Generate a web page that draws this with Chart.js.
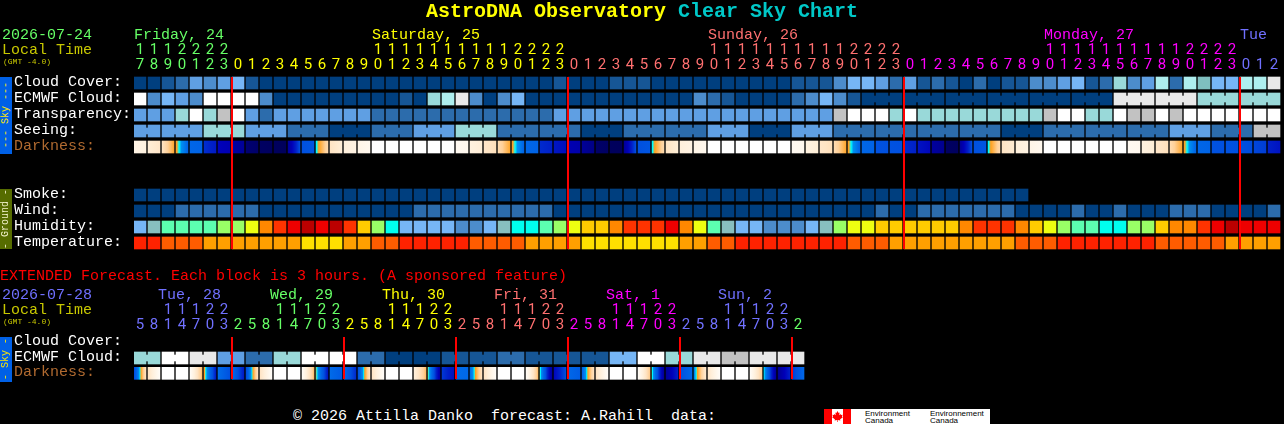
<!DOCTYPE html>
<html><head><meta charset="utf-8">
<script src="https://cdn.jsdelivr.net/npm/chart.js@4"></script>
<style>
html,body{margin:0;padding:0;background:#000;width:1284px;height:424px;overflow:hidden}
canvas{position:absolute;left:0}
.t{position:absolute;white-space:pre;font:15px/15px "Liberation Mono",monospace;color:#fff}
.bar{position:absolute;left:0;width:12px;display:flex;align-items:center;justify-content:center}
.bar span{writing-mode:vertical-rl;transform:rotate(180deg);font:10px/12px "Liberation Mono",monospace;white-space:pre}
#logo{position:absolute;left:824px;top:409px;width:166px;height:15px;background:#fff;overflow:hidden}
#logo i{position:absolute;top:0;height:15px;background:#f00}
#logo b{position:absolute;font:normal 8px/8px "Liberation Sans",sans-serif;color:#000;white-space:pre}
</style></head><body>
<canvas id="main" width="1284" height="260" style="top:0"></canvas>
<canvas id="ext" width="1284" height="130" style="top:260px"></canvas>
<div id="txt"></div>
<div class="bar" style="top:77px;height:77px;background:#0060e6;color:#ffe800"><span>--- Sky ---</span></div>
<div class="bar" style="top:189px;height:60px;background:#566c00;color:#f0f0c8"><span>- Ground -</span></div>
<div class="bar" style="top:337px;height:45px;background:#0060e6;color:#ffe800"><span>- Sky -</span></div>
<div id="logo"><i style="left:0;width:8px"></i><i style="left:19px;width:8px"></i>
<svg style="position:absolute;left:8px;top:0" width="11" height="15" viewBox="0 0 11 15"><polygon fill="#f00" points="5.5,2 6.6,4 7.6,3.6 7.2,6.2 8.6,5 9,6 10.6,5.8 10,7.6 10.8,8.2 8,10.4 8.4,11.4 5.8,11 5.8,13 5.2,13 5.2,11 2.6,11.4 3,10.4 0.2,8.2 1,7.6 0.4,5.8 2,6 2.4,5 3.8,6.2 3.4,3.6 4.4,4"/></svg>
<b style="left:41px;top:1px">Environment</b><b style="left:41px;top:8px">Canada</b>
<b style="left:106px;top:1px">Environnement</b><b style="left:106px;top:8px">Canada</b></div>
<script>
// ---- categories and tick labels
const hours=[17,18,19,20,21,22,23,
 0,1,2,3,4,5,6,7,8,9,10,11,12,13,14,15,16,17,18,19,20,21,22,23,
 0,1,2,3,4,5,6,7,8,9,10,11,12,13,14,15,16,17,18,19,20,21,22,23,
 0,1,2,3,4,5,6,7,8,9,10,11,12,13,14,15,16,17,18,19,20,21,22,23,
 0,1,2];
const hourDay=[0,0,0,0,0,0,0,
 1,1,1,1,1,1,1,1,1,1,1,1,1,1,1,1,1,1,1,1,1,1,1,1,
 2,2,2,2,2,2,2,2,2,2,2,2,2,2,2,2,2,2,2,2,2,2,2,2,
 3,3,3,3,3,3,3,3,3,3,3,3,3,3,3,3,3,3,3,3,3,3,3,3,
 4,4,4];
const midnights=[7,31,55,79];
const rowLabels=["Cloud Cover:","ECMWF Cloud:","Transparency:","Seeing:","Darkness:","Smoke:","Wind:","Humidity:","Temperature:"];
const rowSlots=[0,1,2,3,4,7,8,9,10];
const extHours=[5,8,11,14,17,20,23,
 2,5,8,11,14,17,20,23, 2,5,8,11,14,17,20,23, 2,5,8,11,14,17,20,23,
 2,5,8,11,14,17,20,23, 2,5,8,11,14,17,20,23, 2];
const extDay=[4,4,4,4,4,4,4, 0,0,0,0,0,0,0,0, 1,1,1,1,1,1,1,1, 2,2,2,2,2,2,2,2, 3,3,3,3,3,3,3,3, 4,4,4,4,4,4,4,4, 0];
const extMidnights=[7,15,23,31,39,47];
const extRowLabels=["Cloud Cover:","ECMWF Cloud:","Darkness:"];

// ---- series (levels on each row's colour scale)
const cloudCover=[0,0,1,2,4,3,4,5,1,0, 0,0,0,0,0,0,0,0,0,0, 0,0,0,0,0,0,0,0,0,0, 1,0,0,0,1,1,1,0,0,0, 0,0,0,0,0,0,0,1,1,1, 3,5,5,4,2,4,1,2,1,0, 2,0,1,1,3,3,4,5,1,2, 6,3,4,7,2,7,8,5,5,7, 7,10];
const ecmwfCloud=[11,3,5,4,3,11,11,11,11,3, 0,0,0,0,0,0,0,0,0,1, 0,6,7,10,3,0,3,5,0,0, 0,0,0,0,0,0,0,0,0,0, 3,2,1,0,0,0,0,2,3,5, 3,1,0,0,0,0,0,0,0,0, 0,0,0,0,0,0,0,0,0,0, 10,10,10,10,10,10,6,6,6,6, 6,6];
const ecmwfGroups=[[52,3],[55,3],[58,3],[61,3],[64,3],[67,3],[70,3],[73,3],[76,3],[79,3]];
const transparency=[4,4,4,6,11,6,9,11,4,2, 4,4,4,4,4,4,4,2,2,2, 2,2,2,2,2,2,2,2,2,2, 4,4,4,4,4,4,4,4,4,4, 4,4,4,4,4,4,4,4,4,4, 9,11,11,11,6,11,6,6,6,6, 6,6,6,6,6,9,11,11,6,6, 11,9,9,11,9,11,11,11,11,11, 11,11];
const seeing=[4,4,4,4,4,6,6,6,4,4, 4,2,2,2,0,0,0,2,2,2, 4,4,4,6,6,6,2,2,2,2, 2,2,0,0,0,2,2,2,2,2, 2,4,4,4,0,0,0,4,4,4, 2,2,2,2,2,2,2,2,2,2, 2,2,0,0,0,2,2,2,2,2, 2,2,2,2,4,4,4,2,2,2, 9,9];
const seeingGroups=[[0,2],[2,3],[5,3],[8,3],[11,3],[14,3],[17,3],[20,3],[23,3],[26,3],[29,3],[32,3],[35,3],[38,3],[41,3],[44,3],[47,3],[50,3],[53,3],[56,3],[59,3],[62,3],[65,3],[68,3],[71,3],[74,3],[77,3],[80,2]];
const darkFrom=[-4.5,-3.8,-3,-0.95,1.1,2.7,3.9,4.6,5.8,6.4, 6.7,5,2,-0.3,-3,-4,-4.6,-6,-6,-6, -6,-6,-6,-5.2,-4.2,-3.2,-2.6,-0.95,1.1,2.8, 3.3,4.2,5,6,6.7,5,2,-0.3,-3,-4, -4.6,-6,-6,-6,-6,-6,-6,-5.2,-4.2,-3.2, -2.6,-0.95,1.1,1.9,1.9,2.8,3.4,4.8,6.4,5, 2,-0.3,-3,-4,-4.6,-6,-6,-6,-6,-6, -6,-5.2,-4.2,-3.2,-2.6,-0.95,1.1,1.9,1.9,2, 2.2,3];
const darkTo=[-4.2,-3.2,-1,1.2,1.2,3.2,4.2,5,6,6.6, 6.8,2,1.8,-2.5,-3.8,-4.4,-5,-6,-6,-6, -6,-6,-6,-5,-3.8,-2.8,-1,1.2,1.2,3, 3.6,4.4,5.4,6.4,6.8,2,1.8,-2.5,-3.8,-4.4, -5,-6,-6,-6,-6,-6,-6,-5,-3.8,-2.8, -1,1.2,1.2,2,2,3,3.8,5.2,6.6,2, 1.8,-2.5,-3.6,-4.4,-5,-6,-6,-6,-6,-6, -6,-5,-3.8,-2.8,-1,1.2,1.2,2,2,2.1, 2.4,3.4];
const smoke=[0,0,0,0,0,0,0,0,0,0, 0,0,0,0,0,0,0,0,0,0, 0,0,0,0,0,0,0,0,0,0, 0,0,0,0,0,0,0,0,0,0, 0,0,0,0,0,0,0,0,0,0, 0,0,0,0,0,0,0,0,0,0, 0,0,0,0];
const wind=[0,0,0,2,2,2,2,2,2,0, 0,0,0,0,0,0,0,0,0,0, 2,2,2,2,2,2,2,2,2,2, 0,0,0,0,0,0,0,0,0,0, 0,0,0,0,0,0,0,0,0,0, 0,0,0,2,0,0,2,2,2,2, 2,2,2,0,0,0,0,2,0,0, 2,0,0,0,2,2,2,0,0,0, 0,2];
const humidity=[0,1,2,2,2,2,3,3,4,6, 7,8,9,8,9,7,5,3,10,0, 0,0,0,11,11,0,1,10,10,2, 3,4,5,5,6,7,7,7,8,6, 4,2,1,0,0,11,11,11,0,1, 3,4,4,5,5,5,5,5,5,6, 7,7,7,6,5,4,3,2,2,10, 10,3,3,5,6,6,7,8,9,8, 8,8];
const temperature=[0,0,1,1,1,2,2,2,2,2, 2,2,3,3,3,2,2,1,1,0, 0,0,0,0,1,1,1,1,2,2, 2,2,3,3,3,3,3,3,3,2, 2,1,1,0,0,0,0,0,0,0, 0,1,1,1,2,2,2,2,2,2, 2,2,2,1,1,1,0,0,0,0, 0,0,0,1,1,1,1,1,2,2, 2,2];
const extEcmwf=[6,6,11,11,10,10,4,4,2,2, 6,6,11,11,11,11,2,2,0,0, 0,0,1,1,1,1,2,2,1,1, 1,1,1,1,5,5,11,11,6,6, 10,10,9,9,10,10,10,10];
const extEcmwfGroups=[[0,2],[2,2],[4,2],[6,2],[8,2],[10,2],[12,2],[14,2],[16,2],[18,2],[20,2],[22,2],[24,2],[26,2],[28,2],[30,2],[32,2],[34,2],[36,2],[38,2],[40,2],[42,2],[44,2],[46,2]];
const extDarkFrom=[2.2,-3,-6,-6,-5.5,-1,0.8,0.8,2.2,-3, -6,-6,-5.5,-0.7,0.9,1,2,-3,-6,-6, -4,-0.7,2.5,0.9,1,-3,-6,-6,-5.5,-0.6, 3.8,1,1.3,-3,-6,-6,-5.5,-0.6,5,2, 0.3,-3.2,-6,-6,-5.5,-0.4,5.2,2.5];
const extDarkTo=[-3,-5.6,-6,-6,-1.5,3.2,2,3.2,-3,-5.6, -6,-6,-1.5,3.4,1.6,2.8,-3,-5.6,-6,-6, -1.5,4.6,3.5,1,-3,-5.6,-6,-6,-1.5,5, 2,1.5,-3,-5.6,-6,-6,-1.8,5,3,1, -3.5,-5.6,-6,-6,-2,5,3,1];

// ---- colour scales
const skyPalette=['#003f7f','#165696','#2c6cac','#4c8ccc','#5f9fe3','#76b6f6','#99d9d9','#aeeeee','#7fbfbf','#c2c2c2','#e9e9e9','#ffffff'];
const humPalette=['#76b6f6','#88bfbf','#5cffb0','#99ff66','#eeff11','#ffcc00','#ff8800','#ff3300','#ee0000','#bb0000','#00ffee','#4c8ccc'];
const tempPalette=['#ff2200','#ff5c00','#ff9f00','#ffe000'];
const darkRamp=[[-6,'#ffffff'],[-5,'#fff8ee'],[-4,'#fff0dc'],[-3,'#ffe4c4'],[-2,'#ffd098'],[-1,'#ffa830'],[-0.8,'#ff9f20'],[-0.4,'#00ffff'],[0,'#0090f0'],[1,'#0068e8'],[2,'#0050e0'],[3,'#0020c8'],[4,'#0000b8'],[5,'#000098'],[6,'#000068'],[7,'#000058']];
const dayColors=['#66ff66','#ffff00','#ff7070','#ff00ff','#7070ff'];
const PITCH=14, BLOCK=12;
const blockW=BLOCK/PITCH;

function rampColor(v){
  for(let k=0;k<darkRamp.length-1;k++){
    const [a,ca]=darkRamp[k],[b,cb]=darkRamp[k+1];
    if(v<=b){const f=Math.max(0,(v-a)/(b-a));
      const p=c=>[1,3,5].map(n=>parseInt(c.substr(n,2),16));
      const A=p(ca),B=p(cb);
      return 'rgb('+A.map((x,n)=>Math.round(x+(B[n]-x)*f)).join(',')+')';}
  }
  return darkRamp[darkRamp.length-1][1];
}
function rowSet(values,slot,palette,thick){
  const data=values.map((v,i)=>({x:[i,i+blockW],y:slot+0.5,v}));
  return {type:'bar',data,grouped:false,barThickness:thick||BLOCK,order:2,
    backgroundColor:c=>c.raw?palette[c.raw.v]:'#000',borderWidth:0};
}
function bridgeSet(values,groups,slot,palette){
  const data=[];
  groups.forEach(([s,n])=>{for(let i=s;i<s+n-1;i++)data.push({x:[i+blockW,i+1],y:slot+0.5,v:values[i]});});
  return {type:'bar',data,grouped:false,barThickness:6,order:2,
    backgroundColor:c=>c.raw?palette[c.raw.v]:'#000',borderWidth:0};
}
function darkSet(from,to,slot){
  const data=from.map((v,i)=>({x:[i,i+blockW],y:slot+0.5,v}));
  const cache={};
  return {type:'bar',data,grouped:false,barThickness:BLOCK,order:2,borderWidth:0,
    backgroundColor:c=>{
      if(!c.raw)return '#000';
      const i=c.dataIndex; if(cache[i])return cache[i];
      const sx=c.chart.scales.x; if(!sx)return '#000';
      const x0=sx.getPixelForValue(i),x1=sx.getPixelForValue(i+blockW);
      if(!Number.isFinite(x0)||!Number.isFinite(x1))return '#000';
      const g=c.chart.ctx.createLinearGradient(x0,0,x1,0);
      const a=from[i],b=to[i];
      g.addColorStop(0,rampColor(a));
      if(a!==b)darkRamp.forEach(([v])=>{const f=(v-a)/(b-a);if(f>0&&f<1)g.addColorStop(f,rampColor(v));});
      g.addColorStop(1,rampColor(b));
      return cache[i]=g;
    }};
}
function midLine(x,y0,y1){
  return {type:'line',data:[{x,y:y0},{x,y:y1}],borderColor:'#ff0000',borderWidth:2,pointRadius:0,order:0,fill:false,clip:false};
}
function makeChart(id,datasets,labels,slots,tickHours,tickDays,nCols,nSlots,padB,rowColor){
  return new Chart(document.getElementById(id),{
    type:'bar',
    data:{datasets},
    options:{
      indexAxis:'y',responsive:false,animation:false,events:[],
      layout:{autoPadding:false,padding:{left:14,right:2,top:0,bottom:padB}},
      plugins:{legend:{display:false},tooltip:{enabled:false},title:{display:false}},
      scales:{
        x:{type:'linear',position:'top',min:0,max:82,offset:false,
          grid:{display:false,drawTicks:false},border:{display:false},
          afterFit:s=>{s.height=75;},
          afterBuildTicks:s=>{s.ticks=tickHours.map((h,i)=>({value:i+BLOCK/2/PITCH}));},
          ticks:{autoSkip:false,maxRotation:0,minRotation:0,padding:2,
            font:{family:'Roboto',weight:'400',size:15,lineHeight:'15px'},
            color:c=>dayColors[tickDays[c.index]],
            callback:(v,i)=>{const h=tickHours[i];return [h>=10?String(Math.floor(h/10)):' ',String(h%10)];}}
        },
        y:{type:'linear',position:'left',reverse:true,min:0,max:nSlots,offset:false,
          grid:{display:false,drawTicks:false},border:{display:false},
          afterFit:s=>{s.width=120;},
          afterBuildTicks:s=>{s.ticks=slots.map(r=>({value:r+0.41}));},
          ticks:{autoSkip:false,crossAlign:'far',padding:0,
            font:{family:'"Liberation Mono"',size:15},
            color:c=>rowColor(labels[c.index]),
            callback:(v,i)=>labels[i]}
        }
      }
    }
  });
}
const rowColor=l=>l==='Darkness:'?'#b06a30':'#ffffff';

const mainSets=[
  rowSet(cloudCover,0,skyPalette),
  rowSet(ecmwfCloud,1,skyPalette),bridgeSet(ecmwfCloud,ecmwfGroups,1,skyPalette),
  rowSet(transparency,2,skyPalette),
  rowSet(seeing,3,skyPalette),bridgeSet(seeing,seeingGroups,3,skyPalette),
  darkSet(darkFrom,darkTo,4),
  rowSet(smoke,7,skyPalette),
  rowSet(wind,8,skyPalette),
  rowSet(humidity,9,humPalette),
  rowSet(temperature,10,tempPalette)
].concat(midnights.map(m=>midLine(m,0.125,10.875)));
makeChart('main',mainSets,rowLabels,rowSlots,hours,hourDay,82,11,9,rowColor);

const extSets=[
  rowSet(extEcmwf,1,skyPalette),bridgeSet(extEcmwf,extEcmwfGroups,1,skyPalette),
  darkSet(extDarkFrom,extDarkTo,2)
].concat(extMidnights.map(m=>midLine(m,0.125,2.875)));
makeChart('ext',extSets,extRowLabels,[0,1,2],extHours,extDay,48,3,7,rowColor);

// ---- header and footer text
const texts=[
 [2,40,'2026-07-24','#66ff66'],[2,55,'Local Time','#c8c800'],
 [134,40,'Friday, 24','#66ff66'],[372,40,'Saturday, 25','#ffff00'],[708,40,'Sunday, 26','#ff7070'],[1044,40,'Monday, 27','#ff00ff'],[1240,40,'Tue','#7070ff'],
 [0,281,'EXTENDED Forecast. Each block is 3 hours. (A sponsored feature)','#ff0000'],
 [2,300,'2026-07-28','#7070ff'],[2,315,'Local Time','#c8c800'],
 [158,300,'Tue, 28','#7070ff'],[270,300,'Wed, 29','#66ff66'],[382,300,'Thu, 30','#ffff00'],[494,300,'Fri, 31','#ff7070'],[606,300,'Sat, 1','#ff00ff'],[718,300,'Sun, 2','#7070ff'],
 [293,421,'© 2026 Attilla Danko  forecast: A.Rahill  data:','#ffffff']
];
const box=document.getElementById('txt');
function addText(x,b,s,c,extra){
  const d=document.createElement('div');d.className='t';d.textContent=s;
  d.style.cssText='left:'+x+'px;top:'+(b-12)+'px;color:'+c+';'+(extra||'');box.appendChild(d);return d;
}
texts.forEach(t=>addText(t[0],t[1],t[2],t[3]));
addText(3,64,'(GMT -4.0)','#c8c800','font-size:8px;line-height:8px;margin-top:6px');
addText(3,324,'(GMT -4.0)','#c8c800','font-size:8px;line-height:8px;margin-top:6px');
const title=addText(426,18,'AstroDNA Observatory ','#ffff00','font-weight:bold;font-size:20px;line-height:20px;margin-top:-4px');
const sp=document.createElement('span');sp.textContent='Clear Sky Chart';sp.style.color='#00c8c8';title.appendChild(sp);
</script>
</body></html>
